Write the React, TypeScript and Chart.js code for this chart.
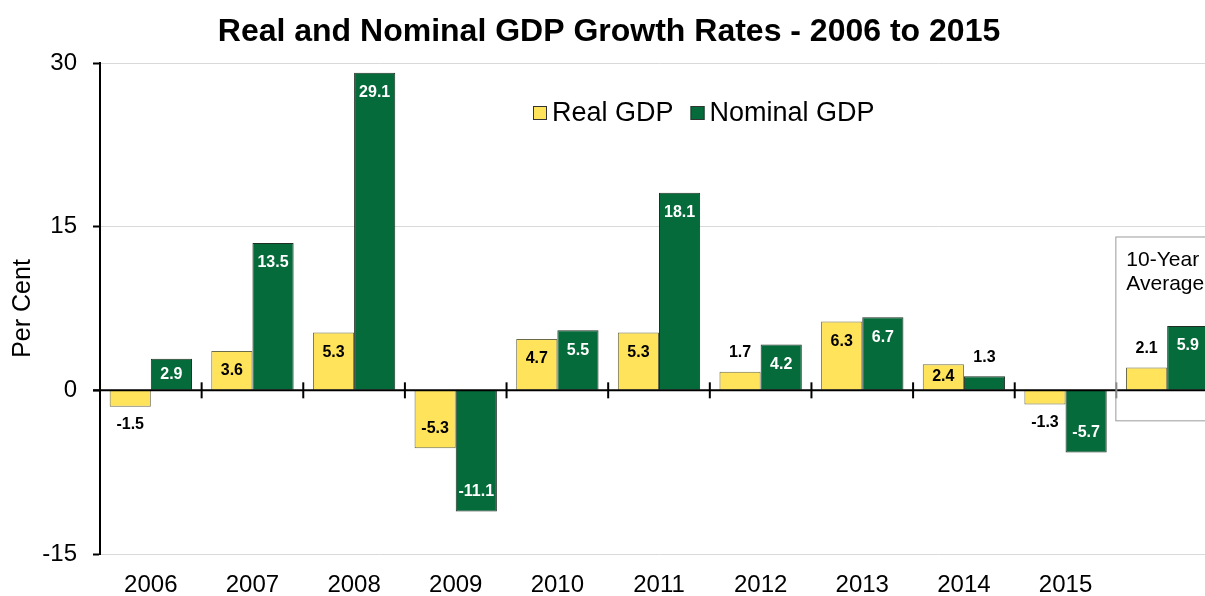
import React, { useEffect, useRef } from "react";
import { Chart, registerables } from "chart.js";

Chart.register(...registerables);

const categories = ["2006", "2007", "2008", "2009", "2010", "2011", "2012", "2013", "2014", "2015", ""];
const realGDP = [-1.5, 3.6, 5.3, -5.3, 4.7, 5.3, 1.7, 6.3, 2.4, -1.3, 2.1];
const nominalGDP = [2.9, 13.5, 29.1, -11.1, 5.5, 18.1, 4.2, 6.7, 1.3, -5.7, 5.9];
const yTicks = [-15, 0, 15, 30];
const seriesNames = ["Real GDP", "Nominal GDP"];
const averageLines = ["10-Year", "Average"];

const YELLOW = "#FFE35A";
const GREEN = "#066B3A";
const FONT = "'Liberation Sans', Arial, sans-serif";

const overlayPlugin = {
  id: "overlay",
  beforeDatasetsDraw(chart: any) {
    const { ctx, chartArea, scales } = chart;
    const x = scales.x;
    const y = scales.y;
    const catW = (chartArea.right - chartArea.left) / categories.length;
    // 10-year average box
    const bl = x.getPixelForValue(categories.length - 1) - catW / 2 - 1;
    const bt = y.getPixelForValue(14.1);
    const bb = y.getPixelForValue(-2.75);
    ctx.save();
    ctx.strokeStyle = "#9a9a9a";
    ctx.lineWidth = 1;
    ctx.fillStyle = "#ffffff";
    ctx.fillRect(bl, bt, chartArea.right + 40 - bl, bb - bt);
    ctx.strokeRect(bl + 0.5, bt + 0.5, chartArea.right + 40 - bl, bb - bt);
    ctx.fillStyle = "#000";
    ctx.font = `21px ${FONT}`;
    ctx.textAlign = "left";
    ctx.textBaseline = "middle";
    ctx.fillText(averageLines[0], bl + 11, bt + 24);
    ctx.fillText(averageLines[1], bl + 11, bt + 48);
    ctx.restore();
  },
  afterDatasetsDraw(chart: any) {
    const { ctx, chartArea, scales } = chart;
    const x = scales.x;
    const y = scales.y;
    const y0 = y.getPixelForValue(0);
    const catW = (chartArea.right - chartArea.left) / categories.length;
    ctx.save();
    // zero line
    ctx.strokeStyle = "#000";
    ctx.lineWidth = 2;
    ctx.beginPath();
    ctx.moveTo(chartArea.left - 7, y0);
    ctx.lineTo(chartArea.right + 40, y0);
    ctx.stroke();
    // category boundary ticks
    for (let i = 1; i < categories.length; i++) {
      const bx = x.getPixelForValue(i) - catW / 2;
      ctx.strokeStyle = i === categories.length - 1 ? "#8a8a8a" : "#000";
      ctx.beginPath();
      ctx.moveTo(bx, y0 - 8);
      ctx.lineTo(bx, y0 + 8);
      ctx.stroke();
    }
    // data labels
    ctx.font = `bold 16px ${FONT}`;
    ctx.textAlign = "center";
    ctx.textBaseline = "middle";
    chart.data.datasets.forEach((ds: any, di: number) => {
      const meta = chart.getDatasetMeta(di);
      meta.data.forEach((bar: any, i: number) => {
        const v = ds.data[i];
        const mid = (bar.y + bar.base) / 2;
        let ly;
        let color = "#000";
        if (Math.abs(v) >= 2.2) {
          ly = v > 0 ? Math.min(bar.y + 20, mid) : Math.max(bar.y - 20, mid);
          color = di === 1 ? "#fff" : "#000";
        } else {
          ly = v > 0 ? bar.y - 19 : bar.y + 18;
        }
        ctx.fillStyle = color;
        ctx.fillText(v.toFixed(1), bar.x, ly);
      });
    });
    // legend
    const lx = chartArea.left + 433;
    const ly = chartArea.top + 50;
    ctx.font = `27px ${FONT}`;
    ctx.textAlign = "left";
    ctx.lineWidth = 1;
    let cx = lx;
    chart.data.datasets.forEach((ds: any, di: number) => {
      ctx.fillStyle = ds.backgroundColor;
      ctx.fillRect(cx, ly - 7, 14, 14);
      ctx.strokeStyle = "#333";
      ctx.strokeRect(cx + 0.5, ly - 6.5, 13, 13);
      ctx.fillStyle = "#000";
      ctx.fillText(seriesNames[di], cx + 19, ly + 1);
      cx += 19 + ctx.measureText(seriesNames[di]).width + 17;
    });
    ctx.restore();
  },
};

export default function App() {
  const ref = useRef<HTMLCanvasElement | null>(null);
  useEffect(() => {
    if (!ref.current) return;
    const chart = new Chart(ref.current, {
      type: "bar",
      data: {
        labels: categories,
        datasets: [
          {
            label: seriesNames[0],
            data: realGDP,
            backgroundColor: YELLOW,
            borderColor: "#6b6b4a",
            borderWidth: 1,
            categoryPercentage: 0.81,
            barPercentage: 1.0,
          },
          {
            label: seriesNames[1],
            data: nominalGDP,
            backgroundColor: GREEN,
            borderColor: "#1f2f25",
            borderWidth: 1,
            categoryPercentage: 0.81,
            barPercentage: 1.0,
          },
        ],
      },
      options: {
        responsive: false,
        animation: false,
        devicePixelRatio: 1,
        layout: { padding: { left: 0, right: 8, top: 0, bottom: 0 } },
        plugins: {
          legend: { display: false },
          tooltip: { enabled: false },
          title: {
            display: true,
            text: "Real and Nominal GDP Growth Rates - 2006 to 2015",
            color: "#000",
            font: { family: FONT, size: 32, weight: "bold" },
            padding: { top: 13, bottom: 11.6 },
          },
        },
        scales: {
          x: {
            grid: { display: false },
            border: { display: false },
            ticks: {
              color: "#000",
              font: { family: FONT, size: 24 },
              padding: 9,
              maxRotation: 0,
              autoSkip: false,
            },
            afterFit(scale: any) {
              scale.height = 42;
            },
          },
          y: {
            min: -15,
            max: 30,
            afterBuildTicks(scale: any) {
              scale.ticks = yTicks.map((v) => ({ value: v }));
            },
            grid: {
              color: (c: any) => (c.tick && c.tick.value === 0 ? "rgba(0,0,0,0)" : "#d9d9d9"),
              lineWidth: 1,
              tickColor: "#000",
              tickWidth: 2,
              tickLength: 7,
            },
            border: { display: true, color: "#000", width: 2 },
            ticks: {
              color: "#000",
              font: { family: FONT, size: 24 },
              padding: 16,
            },
            title: {
              display: true,
              text: "Per Cent",
              color: "#000",
              font: { family: FONT, size: 25 },
              padding: { top: 8, bottom: 0 },
            },
            afterFit(scale: any) {
              scale.width = 100;
            },
          },
        },
      },
      plugins: [overlayPlugin],
    });
    return () => chart.destroy();
  }, []);
  return (
    <div style={{ position: "fixed", left: 0, top: 0, width: 1205, height: 596, overflow: "hidden", background: "#fff" }}>
      <canvas ref={ref} width={1226} height={596} style={{ width: 1226, height: 596, display: "block" }} />
    </div>
  );
}
